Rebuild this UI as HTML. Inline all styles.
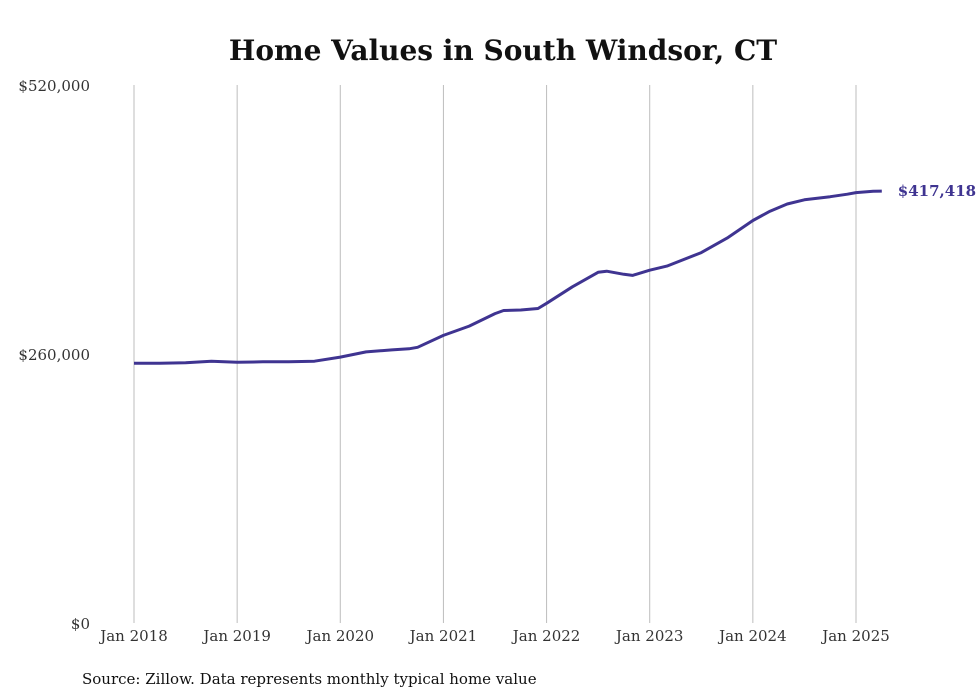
<!DOCTYPE html>
<html><head><meta charset="utf-8"><style>
body{margin:0;background:#fff;}
svg{display:block;font-family:"DejaVu Serif","Liberation Serif",serif;}
</style></head><body>
<svg id="chart" width="980" height="699" viewBox="0 0 980 699">
<text x="503" y="60" text-anchor="middle" font-size="28" font-weight="bold" fill="#111">Home Values in South Windsor, CT</text>
<g id="grid"></g>
<g id="yaxis"></g>
<g id="xaxis"></g>
<path id="line" fill="none" stroke="#3f3491" stroke-width="3" stroke-linejoin="round"></path>
<text id="endlabel" font-size="15" font-weight="bold" fill="#3f3491"></text>
<text x="82" y="684" font-size="15" fill="#111">Source: Zillow. Data represents monthly typical home value</text>
</svg>
<script>
const monthIndex=[0,3,6,9,12,15,18,21,24,27,30,32,33,36,39,42,43,45,47,48,51,54,55,57,58,60,62,66,69,72,74,76,78,81,83,84,86,87];
const values=[251000,251000,251500,253000,252000,252500,252500,253000,257000,262000,264000,265000,266500,278000,287000,299000,302000,302500,304000,309000,325000,339000,340000,337000,336000,341000,345000,358000,372000,389000,398000,405000,409000,412000,414500,416000,417400,417418];
const yTicks=[0,260000,520000];
const yTickLabels=["$0","$260,000","$520,000"];
const xTickMonths=[0,12,24,36,48,60,72,84];
const xTickLabels=["Jan 2018","Jan 2019","Jan 2020","Jan 2021","Jan 2022","Jan 2023","Jan 2024","Jan 2025"];
const endLabel="$417,418";
const NS="http://www.w3.org/2000/svg";
const x=m=>134+m*(856-134)/84;
const y=v=>623-v*(623-85)/520000;
function mk(t,a,p){const e=document.createElementNS(NS,t);for(const k in a)e.setAttribute(k,a[k]);p.appendChild(e);return e;}
const grid=document.getElementById('grid'),xa=document.getElementById('xaxis'),ya=document.getElementById('yaxis');
xTickMonths.forEach((m,i)=>{
  const l=mk('line',{x1:x(m),x2:x(m),y1:85,y2:623,stroke:'#bdbdbd','stroke-width':1},grid);
  
  
  const t=mk('text',{x:x(m),y:641,'text-anchor':'middle','font-size':15,fill:'#333'},xa);
  t.textContent=xTickLabels[i];
  
  
});
yTicks.forEach((v,i)=>{
  const t=mk('text',{x:90,y:y(v)+6,'text-anchor':'end','font-size':15,fill:'#333'},ya);
  t.textContent=yTickLabels[i];
  
  
});
let d='';
monthIndex.forEach((m,i)=>{d+=(i?'L':'M')+x(m).toFixed(1)+','+y(values[i]).toFixed(1);});
document.getElementById('line').setAttribute('d',d);
const el=document.getElementById('endlabel');
const lm=monthIndex[monthIndex.length-1],lv=values[values.length-1];
el.setAttribute('x',x(lm)+16);el.setAttribute('y',y(lv)+5);el.textContent=endLabel;
</script>
</body></html>
